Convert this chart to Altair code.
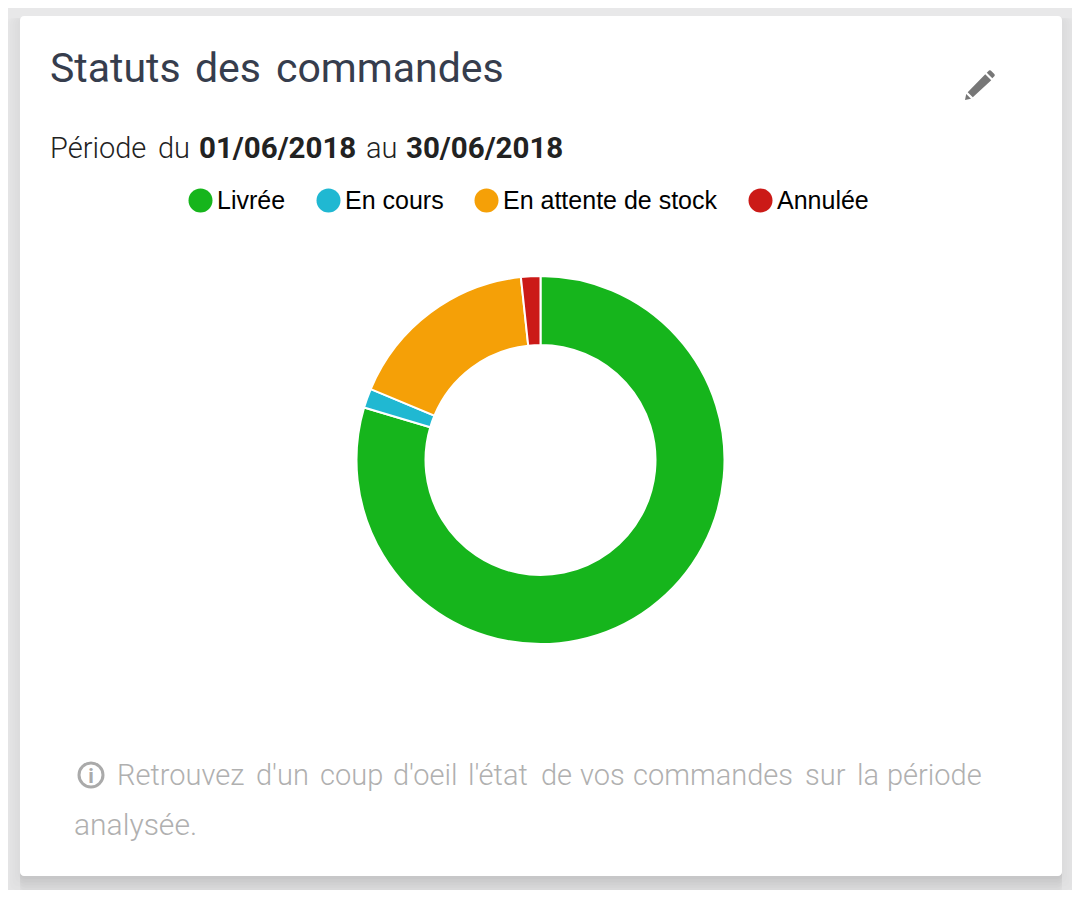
import altair as alt
import pandas as pd

statuses = ["Livrée", "En cours", "En attente de stock", "Annulée"]
shares = [79.6, 1.7, 17.0, 1.7]
colors = ["#16b51c", "#20b8d2", "#f5a007", "#cb1a17"]
order = [1, 2, 3, 4]

title_words = ["Statuts", "des", "commandes"]
note_words = ["Retrouvez", "d'un", "coup", "d'oeil", "l'état", "de", "vos", "commandes", "sur", "la", "période"]

OX, OY = 8, 8
W, H = 1064, 882

df = pd.DataFrame({"statut": statuses, "part": shares, "ordre": order})

def box(x1, y1, x2, y2, color, opacity=1.0, radius=4):
    return alt.Chart(pd.DataFrame({"a": [0]})).mark_rect(
        color=color, opacity=opacity, cornerRadius=radius
    ).encode(
        x=alt.value(x1 - OX), x2=alt.value(x2 - OX),
        y=alt.value(y1 - OY), y2=alt.value(y2 - OY),
    )

def label(txt, x, y, size, color, weight="normal", font="Roboto", align="left"):
    return alt.Chart(pd.DataFrame({"t": [txt]})).mark_text(
        font=font, fontSize=size, color=color, fontWeight=weight, align=align, baseline="alphabetic"
    ).encode(x=alt.value(x - OX), y=alt.value(y - OY), text="t:N")

layers = []
# soft card shadow, built up from stacked translucent rectangles
for i in range(7, 0, -1):
    layers.append(box(20, 16, 1062, 876 + i * 3, "#000000", 0.012, 6))
for i in range(6, 0, -1):
    layers.append(box(20 - i * 2.5, 18, 1062 + i * 2.5, 876 + i * 3.5, "#000000", 0.008, 6))
layers.append(box(20, 16, 1062, 876, "#ffffff"))

donut = alt.Chart(df).mark_arc(
    radius=184, innerRadius=115, stroke="#ffffff", strokeWidth=2
).encode(
    theta=alt.Theta("part:Q", stack=True, scale=alt.Scale(domain=[0, sum(shares)])),
    order=alt.Order("ordre:Q"),
    color=alt.Color(
        "statut:N",
        sort=statuses,
        scale=alt.Scale(domain=statuses, range=colors),
        legend=alt.Legend(
            title=None, orient="none", legendX=180 - OX + 8, legendY=188 - OY,
            direction="horizontal", columns=4, gridAlign="none",
            symbolType="circle", symbolSize=576, symbolStrokeWidth=0, symbolOpacity=1,
            labelFont="Liberation Sans", labelFontSize=25, labelColor="#000000",
            labelOffset=4, columnPadding=30, labelLimit=400,
        ),
    ),
    x=alt.value(540.5 - OX), y=alt.value(460 - OY),
)
layers.append(donut)

for word, x in zip(title_words, [50, 195, 276]):
    layers.append(label(word, x, 82, 41, "#363d4d"))
layers.append(label("Période", 50, 158, 29, "#222222", 300))
layers.append(label("du", 158, 158, 29, "#222222", 300))
layers.append(label("01/06/2018", 199, 158, 29.5, "#222222", "bold"))
layers.append(label("au", 366, 158, 29, "#222222", 300))
layers.append(label("30/06/2018", 406, 158, 29.5, "#222222", "bold"))
for word, x in zip(note_words, [117, 256, 320, 393, 468, 541, 580, 633, 805, 857, 887]):
    layers.append(label(word, x, 785, 29, "#b0b0b0", 300))
layers.append(label("analysée.", 74, 835, 30, "#b0b0b0", 300))

# edit pencil
pencil = ("M-1 1L-.92 .6L-.6 .92ZM-.82 .48L.35 -.72L.75 -.32L-.48 .82ZM.45 -.82L.6 -.97Q.66 -1 .72 -.97L.97 -.72Q1 -.66 .97 -.6L.82 -.45Z")
layers.append(
    alt.Chart(pd.DataFrame({"a": [0]})).mark_point(
        shape=pencil, size=900, filled=True, color="#777777", opacity=1
    ).encode(x=alt.value(980 - OX), y=alt.value(85 - OY))
)
# info icon
layers.append(
    alt.Chart(pd.DataFrame({"a": [0]})).mark_point(
        shape="circle", size=576, filled=False, color="#aaaaaa", strokeWidth=3, opacity=1
    ).encode(x=alt.value(91 - OX), y=alt.value(775 - OY))
)
layers.append(label("i", 91, 783, 21, "#aaaaaa", "bold", align="center"))

chart = alt.layer(*layers).properties(
    width=W, height=H, background="#e8e8e9", padding=0,
    autosize=alt.AutoSizeParams(type="none"),
).configure_view(stroke=None)

chart.save("out.html", embed_options={"renderer": "svg", "actions": False})
